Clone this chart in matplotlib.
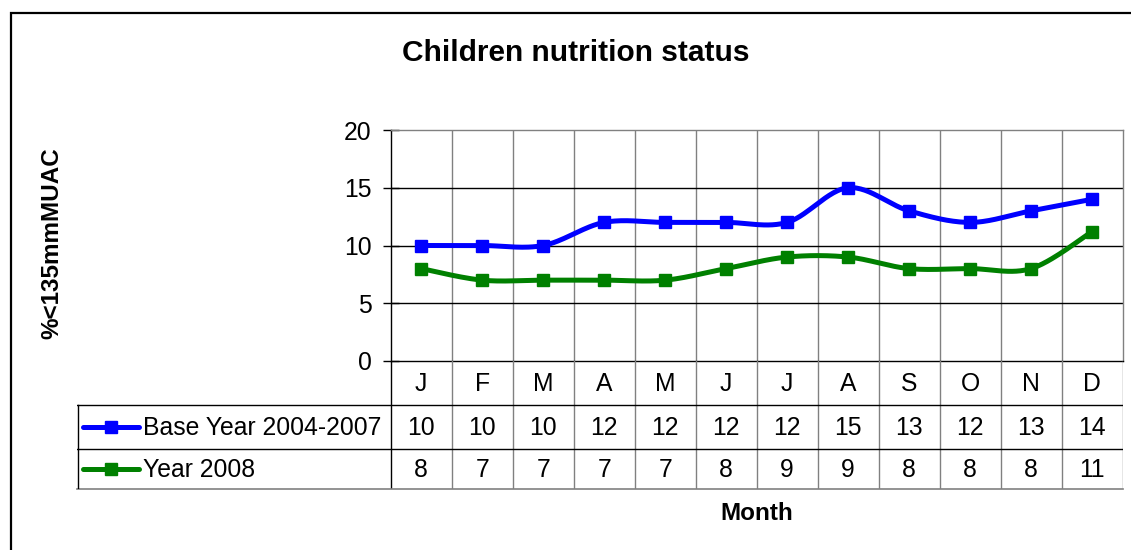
import numpy as np
import matplotlib
matplotlib.use("Agg")
import matplotlib.pyplot as plt
from matplotlib.patches import Rectangle

plt.rcParams['font.family'] = ['Liberation Sans', 'DejaVu Sans']

months = ["J", "F", "M", "A", "M", "J", "J", "A", "S", "O", "N", "D"]
base_label = "Base Year 2004-2007"
year_label = "Year 2008"
base_year = [10, 10, 10, 12, 12, 12, 12, 15, 13, 12, 13, 14]
year_2008 = [8, 7, 7, 7, 7, 8, 9, 9, 8, 8, 8, 11.2]
yticks = [0, 5, 10, 15, 20]

BLUE = "#0000FF"
GREEN = "#008000"
GRAY = "#808080"

W, H = 1131, 550
fig = plt.figure(figsize=(W / 100, H / 100), dpi=100)

# outer frame
fig.patches.append(Rectangle((10.5 / W, -0.1), 1.2, 1 - 13.3 / H + 0.1,
                             transform=fig.transFigure, fill=False,
                             edgecolor="black", linewidth=1.6))


def smooth(xs, ys, n=30):
    pts = np.column_stack([xs, ys]).astype(float)
    out = []
    m = len(pts)
    t = np.linspace(0, 1, n)[:, None]
    for i in range(m - 1):
        p0 = pts[max(i - 1, 0)]
        p1 = pts[i]
        p2 = pts[i + 1]
        p3 = pts[min(i + 2, m - 1)]
        c1 = p1 + (p2 - p0) / 6
        c2 = p2 - (p3 - p1) / 6
        seg = ((1 - t) ** 3) * p1 + 3 * ((1 - t) ** 2) * t * c1 + 3 * (1 - t) * t ** 2 * c2 + t ** 3 * p2
        out.append(seg if i == 0 else seg[1:])
    s = np.vstack(out)
    return s[:, 0], s[:, 1]


fs = 17.8
lw = 3.6
ms = 8.6

left_px, right_px, top_px, bot_px = 390.7, 1122.5, 130, 361
ax = fig.add_axes([left_px / W, 1 - bot_px / H, (right_px - left_px) / W, (bot_px - top_px) / H])
x = np.arange(len(months))
ax.set_xlim(-0.5, len(months) - 0.5)
ax.set_ylim(0, 20)
ax.set_yticks(yticks)
ax.set_xticks([])
ax.tick_params(axis='y', direction='inout', length=11.5, width=1, pad=8, labelsize=fs)
for k in range(1, len(months)):
    ax.axvline(k - 0.5, color=GRAY, lw=1, zorder=1)
for v in yticks[1:-1]:
    ax.axhline(v, color="black", lw=1, zorder=1)
ax.spines['left'].set_color('black')
ax.spines['bottom'].set_color('black')
ax.spines['top'].set_color(GRAY)
ax.spines['right'].set_color(GRAY)
for s in ax.spines.values():
    s.set_linewidth(1)

for vals, col in [(base_year, BLUE), (year_2008, GREEN)]:
    sx, sy = smooth(x, vals)
    ax.plot(sx, sy, color=col, lw=lw, zorder=3, solid_capstyle='round')
    ax.plot(x, vals, ls='none', marker='s', ms=ms, color=col, zorder=4)

# data table
tab_left_px, tab_bot_px = 77, 489
col_w = (right_px - left_px) / len(months)
x_left = -0.5 - (left_px - tab_left_px) / col_w
tab = fig.add_axes([tab_left_px / W, 1 - tab_bot_px / H, (right_px - tab_left_px) / W, (tab_bot_px - bot_px) / H])
tab.set_xlim(x_left, len(months) - 0.5)
tab.set_ylim(tab_bot_px - bot_px, 0)
tab.axis('off')
r1, r2, r3 = 44, 88, tab_bot_px - bot_px
tab.plot([-0.5, -0.5], [0, r3], color='black', lw=1)
for k in range(1, len(months) + 1):
    tab.plot([k - 0.5, k - 0.5], [0, r3], color=GRAY, lw=1)
tab.plot([x_left, len(months) - 0.5], [r1, r1], color='black', lw=1)
tab.plot([x_left, len(months) - 0.5], [r2, r2], color='black', lw=1)
tab.plot([x_left, len(months) - 0.5], [r3 - 0.5, r3 - 0.5], color=GRAY, lw=1.2, clip_on=False)
tab.plot([x_left + 0.02, x_left + 0.02], [r1, r3], color='black', lw=1)

for i, m in enumerate(months):
    tab.text(i, r1 / 2 + 1, m, ha='center', va='center', fontsize=fs)
    tab.text(i, (r1 + r2) / 2 + 1, f"{base_year[i]:.0f}", ha='center', va='center', fontsize=fs)
    tab.text(i, (r2 + r3) / 2 + 1, f"{year_2008[i]:.0f}", ha='center', va='center', fontsize=fs)

lx0 = x_left + (83 - tab_left_px) / col_w
lx1 = x_left + (139 - tab_left_px) / col_w
lxt = x_left + (143 - tab_left_px) / col_w
for yrow, col, lab in [((r1 + r2) / 2, BLUE, base_label), ((r2 + r3) / 2, GREEN, year_label)]:
    tab.plot([lx0, lx1], [yrow, yrow], color=col, lw=lw, solid_capstyle='round')
    tab.plot([(lx0 + lx1) / 2], [yrow], marker='s', ms=ms, color=col, ls='none')
    tab.text(lxt, yrow + 1, lab, ha='left', va='center', fontsize=fs)

fig.text(576 / W, 1 - 53 / H, "Children nutrition status", ha='center', va='center',
         fontsize=21.5, fontweight='bold')
fig.text(52 / W, 1 - 243 / H, "%<135mmMUAC", ha='center', va='center', rotation=90,
         fontsize=17.5, fontweight='bold')
fig.text(757 / W, 1 - 513 / H, "Month", ha='center', va='center', fontsize=17.5, fontweight='bold')

fig.savefig("out.png", dpi=100)
